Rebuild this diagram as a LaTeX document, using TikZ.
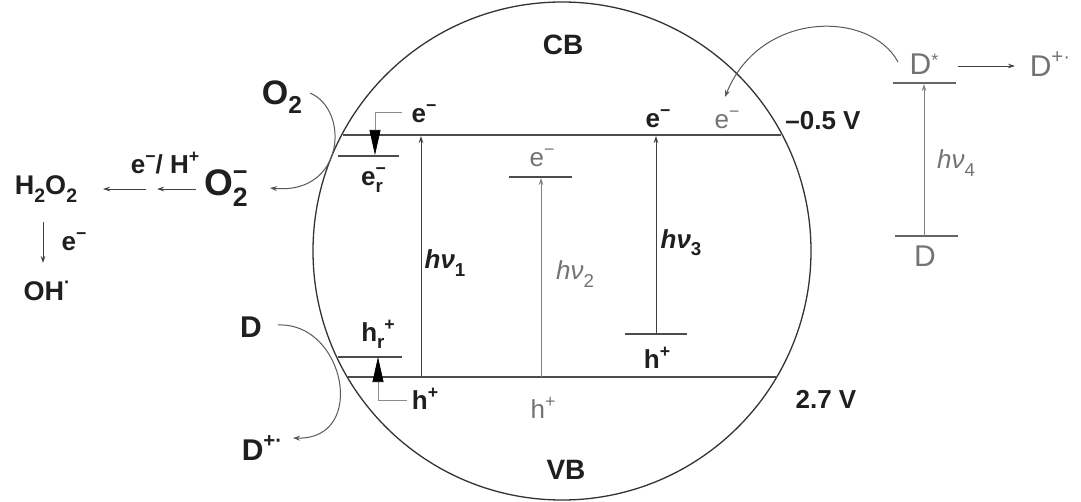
\documentclass[tikz,border=0pt]{standalone}
\usepackage{fontspec}
\setmainfont{Liberation Sans}
\usetikzlibrary{arrows.meta}
\newcommand\sbs[1]{\raisebox{-0.28em}{\fontsize{0.72em}{0.72em}\selectfont #1}}
\newcommand\sps[1]{\raisebox{0.42em}{\fontsize{0.68em}{0.68em}\selectfont #1}}
\begin{document}
\begin{tikzpicture}[x=1pt,y=-1pt,
  lbl/.style={font=\fontsize{26}{28}\selectfont\bfseries, inner sep=0pt, text=black!88},
  glbl/.style={font=\fontsize{26}{28}\selectfont, inner sep=0pt, text=black!55},
  lvl/.style={line width=1.2pt, draw=black!70},
  glvl/.style={line width=1.2pt, draw=black!60},
  arr/.style={line width=0.8pt, draw=black!75, -{Stealth[length=7pt,width=4.5pt]}},
  garr/.style={line width=0.8pt, draw=black!50, -{Stealth[length=7pt,width=4.5pt]}},
  bigtip/.style={line width=0.7pt, draw=black!45, -{Triangle[length=25pt,width=11pt,fill=black,color=black]}},
  curvearr/.style={line width=1pt, draw=black!65, -{Stealth[length=7pt,width=5pt]}}
]
\useasboundingbox (0,0) rectangle (1081,502);

% particle
\node[circle, draw=black!80, line width=1.3pt, minimum size=498pt, inner sep=0pt] (np) at (562,251) {};

% band edges
\coordinate (cbL) at (343,135); \coordinate (cbR) at (781,135);
\coordinate (vbL) at (348,377); \coordinate (vbR) at (776,377);
\draw[lvl] (cbL) -- (cbR);
\draw[lvl] (vbL) -- (vbR);

\node[lbl, font=\fontsize{28}{30}\selectfont\bfseries] (cb) at (563,45) {CB};
\node[lbl, font=\fontsize{28}{30}\selectfont\bfseries] (vb) at (566,470) {VB};
\node[lbl] (pot1) at (823,121) {–0.5 V};
\node[lbl] (pot2) at (826,399) {2.7 V};

% trapped electron level
\coordinate (er1) at (338,156); \coordinate (er2) at (399,156);
\draw[lvl] (er1) -- (er2);
\node[lbl] (erl) at (372,180) {e\rlap{\sps{−}}\sbs{r}};
\node[lbl] (e1) at (424,114) {e\sps{−}};
\coordinate (ga) at (402,112); \coordinate (gb) at (375,112); \coordinate (gc) at (375,155);
\draw[bigtip] (ga) -- (gb) -- (gc);

% trapped hole level
\coordinate (hr1) at (338,357); \coordinate (hr2) at (402,357);
\draw[lvl] (hr1) -- (hr2);
\node[lbl] (hrl) at (378,334) {h\sbs{r}\sps{+}};
\node[lbl] (h1) at (425,399) {h\sps{+}};
\coordinate (ha) at (407,400); \coordinate (hb) at (378,400); \coordinate (hc) at (378,357);
\draw[bigtip] (ha) -- (hb) -- (hc);

% hv1
\coordinate (v1b) at (421,377); \coordinate (v1t) at (421,136);
\draw[arr] (v1b) -- (v1t);
\node[lbl] (hv1) at (445,263) {\textit{hν}\sbs{1}};

% hv2
\coordinate (l2a) at (509,177); \coordinate (l2b) at (572,177);
\draw[lvl] (l2a) -- (l2b);
\coordinate (v2b) at (541,377); \coordinate (v2t) at (541,178);
\draw[garr] (v2b) -- (v2t);
\node[glbl] (e2) at (542,158) {e\sps{−}};
\node[glbl] (hv2) at (575,274) {\textit{hν}\sbs{2}};
\node[glbl] (h2) at (543,408) {h\sps{+}};

% hv3
\coordinate (l3a) at (625,334); \coordinate (l3b) at (687,334);
\draw[lvl] (l3a) -- (l3b);
\coordinate (v3b) at (656,334); \coordinate (v3t) at (656,136);
\draw[arr] (v3b) -- (v3t);
\node[lbl] (e3) at (658,119) {e\sps{−}};
\node[lbl] (hv3) at (681,243) {\textit{hν}\sbs{3}};
\node[lbl] (h3) at (657,358) {h\sps{+}};

% injected electron
\node[glbl] (e4) at (727,120) {e\sps{−}};

% dye on the right
\node[glbl, font=\fontsize{30}{32}\selectfont] (dstar) at (924,64) {D\raisebox{0.25em}{\fontsize{18}{18}\selectfont *}};
\coordinate (d1a) at (893,83); \coordinate (d1b) at (956,83);
\draw[glvl] (d1a) -- (d1b);
\coordinate (d0a) at (895,236); \coordinate (d0b) at (958,236);
\draw[glvl] (d0a) -- (d0b);
\node[glbl, font=\fontsize{30}{32}\selectfont] (dg) at (925,256) {D};
\coordinate (v4b) at (924,236); \coordinate (v4t) at (924,84);
\draw[garr] (v4b) -- (v4t);
\node[glbl] (hv4) at (956,163) {\textit{hν}\sbs{4}};
\coordinate (dra) at (958,66); \coordinate (drb) at (1015,66);
\draw[arr] (dra) -- (drb);
\node[glbl, font=\fontsize{30}{32}\selectfont] (dox) at (1050,64) {D\sps{+·}};
\coordinate (dc0) at (898,62); \coordinate (dc1) at (725,97);
\draw[curvearr] (dc0) .. controls (870,10) and (760,10) .. (dc1);

% oxygen side
\node[lbl, font=\fontsize{34}{36}\selectfont\bfseries] (o2) at (282,97) {O\sbs{2}};
\coordinate (oc0) at (310,93); \coordinate (oc1) at (270,188);
\draw[curvearr] (oc0) .. controls (350,110) and (345,195) .. (oc1);
\node[lbl, font=\fontsize{37}{39}\selectfont\bfseries] (o2m) at (226,188) {O\rlap{\sps{−}}\sbs{2}};
\coordinate (oa1) at (196,189); \coordinate (oa2) at (157,189);
\draw[arr] (oa1) -- (oa2);
\coordinate (ob1) at (146,189); \coordinate (ob2) at (103,189);
\draw[arr] (ob1) -- (ob2);
\node[lbl] (eh) at (165,163) {e\sps{−}/ H\sps{+}};
\node[lbl, font=\fontsize{27}{29}\selectfont\bfseries] (h2o2) at (46,189) {H\sbs{2}O\sbs{2}};
\coordinate (hv0) at (43,222); \coordinate (hv9) at (43,263);
\draw[arr] (hv0) -- (hv9);
\node[lbl] (e5) at (74,242) {e\sps{−}};
\node[lbl, font=\fontsize{27}{29}\selectfont\bfseries] (oh) at (47,291) {OH\sps{·}};

% donor side
\node[lbl, font=\fontsize{30}{32}\selectfont\bfseries] (dl) at (251,327) {D};
\coordinate (dd0) at (278,325); \coordinate (dd1) at (293,438);
\draw[curvearr] (dd0) .. controls (345,322) and (368,440) .. (dd1);
\node[lbl, font=\fontsize{30}{32}\selectfont\bfseries] (dlox) at (262,448) {D\sps{+·}};
\end{tikzpicture}
\end{document}
